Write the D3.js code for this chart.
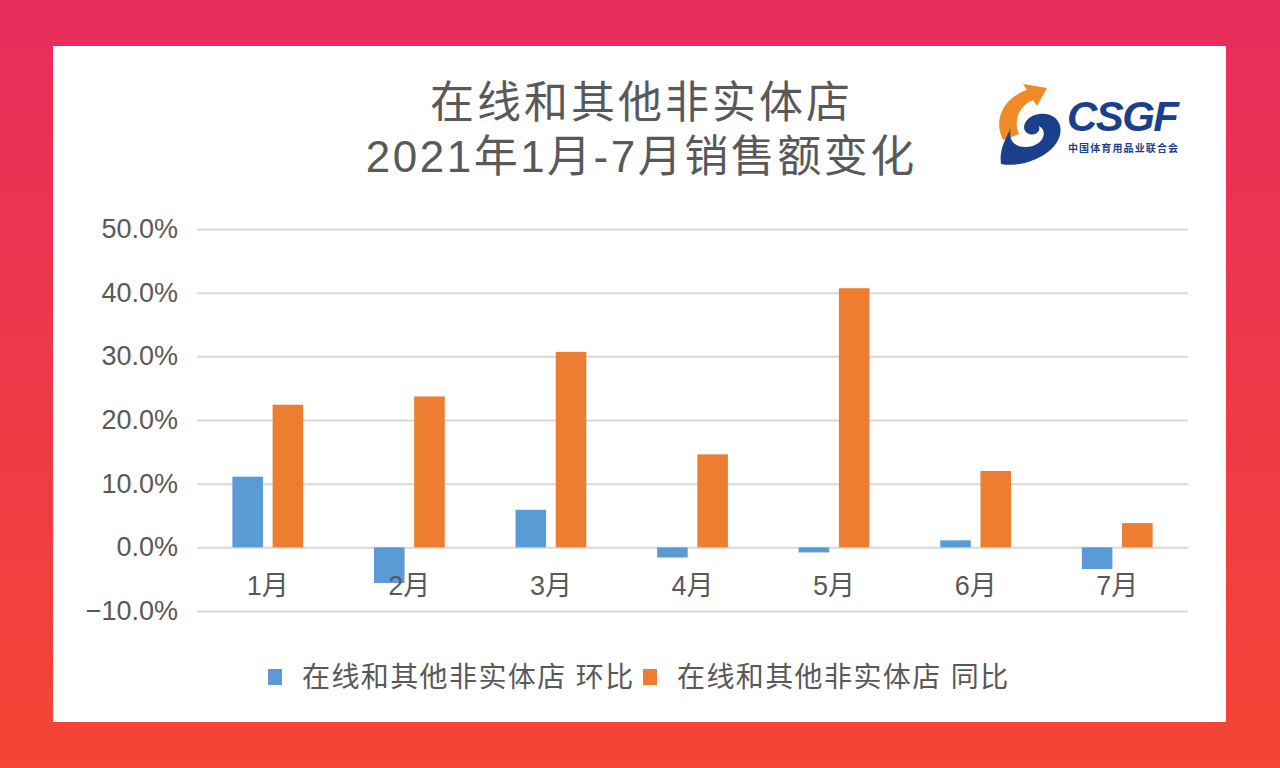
<!DOCTYPE html>
<html>
<head>
<meta charset="utf-8">
<script src="https://cdn.jsdelivr.net/npm/d3@7"></script>
<style>
  body { margin: 0; overflow: hidden; }
  text { font-family: "Liberation Sans", "Noto Sans CJK SC", sans-serif; }
</style>
</head>
<body>
<div id="chart"></div>
<script>
const months = ['1月', '2月', '3月', '4月', '5月', '6月', '7月'];
const seriesNames = ['在线和其他非实体店 环比', '在线和其他非实体店 同比'];
const mom = [11.1, -5.6, 5.9, -1.6, -0.8, 1.1, -3.4];   // 环比 %
const yoy = [22.4, 23.7, 30.7, 14.6, 40.7, 12.0, 3.8];  // 同比 %
const yTicks = [-10, 0, 10, 20, 30, 40, 50];
const titleLines = ['在线和其他非实体店', '2021年1月-7月销售额变化'];
const colors = ['#5b9bd5', '#ed7d31'];

const width = 1280;
const height = 768;
const plot = { left: 197, right: 1188, top: 229, bottom: 611 };
const FONT = '"Liberation Sans", "Noto Sans CJK SC", sans-serif';

const svg = d3.select('#chart')
  .append('svg')
  .attr('width', width)
  .attr('height', height);

// background
const grad = svg.append('defs')
  .append('linearGradient')
  .attr('id', 'bg')
  .attr('x1', 0).attr('y1', 0).attr('x2', 0).attr('y2', 1);
grad.append('stop').attr('offset', '0%').attr('stop-color', '#e82c5d');
grad.append('stop').attr('offset', '100%').attr('stop-color', '#f54535');

svg.append('rect').attr('width', width).attr('height', height).attr('fill', 'url(#bg)');
svg.append('rect')
  .attr('x', 53).attr('y', 46)
  .attr('width', 1173).attr('height', 676)
  .attr('fill', '#fff');

// title
const titleSpacing = [3, 2.5];
svg.selectAll('.title')
  .data(titleLines)
  .enter().append('text')
  .attr('class', 'title')
  .attr('x', (d, i) => 640 + titleSpacing[i] / 2)
  .attr('y', (d, i) => 118 + i * 54)
  .attr('text-anchor', 'middle')
  .attr('font-size', 44)
  .attr('letter-spacing', (d, i) => titleSpacing[i])
  .attr('fill', '#595959')
  .text(d => d);

// scales
const x0 = d3.scaleBand()
  .domain(months)
  .range([plot.left, plot.right])
  .paddingInner(0.5)
  .paddingOuter(0.25);
const x1 = d3.scaleBand()
  .domain([0, 1])
  .range([0, x0.bandwidth()])
  .paddingInner(0.24);
const y = d3.scaleLinear()
  .domain([-10, 50])
  .range([plot.bottom, plot.top]);

// grid + y labels
const yAxis = svg.append('g')
  .attr('transform', 'translate(' + plot.left + ',0)')
  .call(d3.axisLeft(y).tickValues(yTicks)
    .tickSize(-(plot.right - plot.left))
    .tickPadding(19)
    .tickFormat(d => (d < 0 ? '\u2212' : '') + Math.abs(d).toFixed(1) + '%'));
yAxis.select('.domain').remove();
yAxis.selectAll('line').attr('stroke', '#d9d9d9').attr('stroke-width', 2);
yAxis.selectAll('text')
  .attr('font-size', 27)
  .attr('fill', '#595959')
  .style('font-family', FONT);

// bars
const groups = svg.append('g')
  .selectAll('g')
  .data(months)
  .enter().append('g')
  .attr('transform', d => 'translate(' + x0(d) + ',0)');

groups.selectAll('rect')
  .data((d, i) => [mom[i], yoy[i]])
  .enter().append('rect')
  .attr('x', (d, j) => x1(j))
  .attr('width', x1.bandwidth())
  .attr('y', d => y(Math.max(0, d)))
  .attr('height', d => Math.abs(y(d) - y(0)))
  .attr('fill', (d, j) => colors[j]);

// x labels
const xAxis = svg.append('g')
  .attr('transform', 'translate(0,' + y(0) + ')')
  .call(d3.axisBottom(x0).tickSize(0).tickPadding(29));
xAxis.select('.domain').remove();
xAxis.selectAll('text')
  .attr('font-size', 27)
  .attr('fill', '#595959')
  .style('font-family', FONT);

// legend
const legendX = [268, 643];
const legend = svg.selectAll('.legend')
  .data(seriesNames)
  .enter().append('g')
  .attr('class', 'legend')
  .attr('transform', (d, i) => 'translate(' + legendX[i] + ',669)');
legend.append('rect')
  .attr('width', 14).attr('height', 16)
  .attr('fill', (d, i) => colors[i]);
legend.append('text')
  .attr('x', 34).attr('y', 18)
  .attr('font-size', 28)
  .attr('letter-spacing', 1.4)
  .attr('fill', '#595959')
  .text(d => d);

// CSGF logo
const logo = svg.append('g').attr('transform', 'translate(997,84)');
logo.append('path')
  .attr('d', 'M6,56 C-4,36 6,14 30,6 L26,0 L50,4 L40,22 L36,16 C22,22 16,36 22,50 Z')
  .attr('fill', '#f08a24');
logo.append('path')
  .attr('d', 'M4,80 C22,84 54,74 62,54 C68,38 56,28 42,30 C28,32 22,46 32,50 C38,52 44,48 42,42 C50,46 48,58 36,62 C20,66 10,58 14,44 C8,56 2,66 4,80 Z')
  .attr('fill', '#1c3f8c');
logo.append('text')
  .attr('x', 70).attr('y', 47)
  .attr('font-size', 42)
  .attr('font-weight', 'bold')
  .attr('font-style', 'italic')
  .attr('fill', '#1c3f8c')
  .attr('textLength', 112)
  .text('CSGF');
logo.append('text')
  .attr('x', 71).attr('y', 68)
  .attr('font-size', 10)
  .attr('font-weight', 'bold')
  .attr('fill', '#1c3f8c')
  .attr('textLength', 110)
  .style('font-family', '"Noto Sans CJK SC", sans-serif')
  .text('中国体育用品业联合会');
</script>
</body>
</html>
